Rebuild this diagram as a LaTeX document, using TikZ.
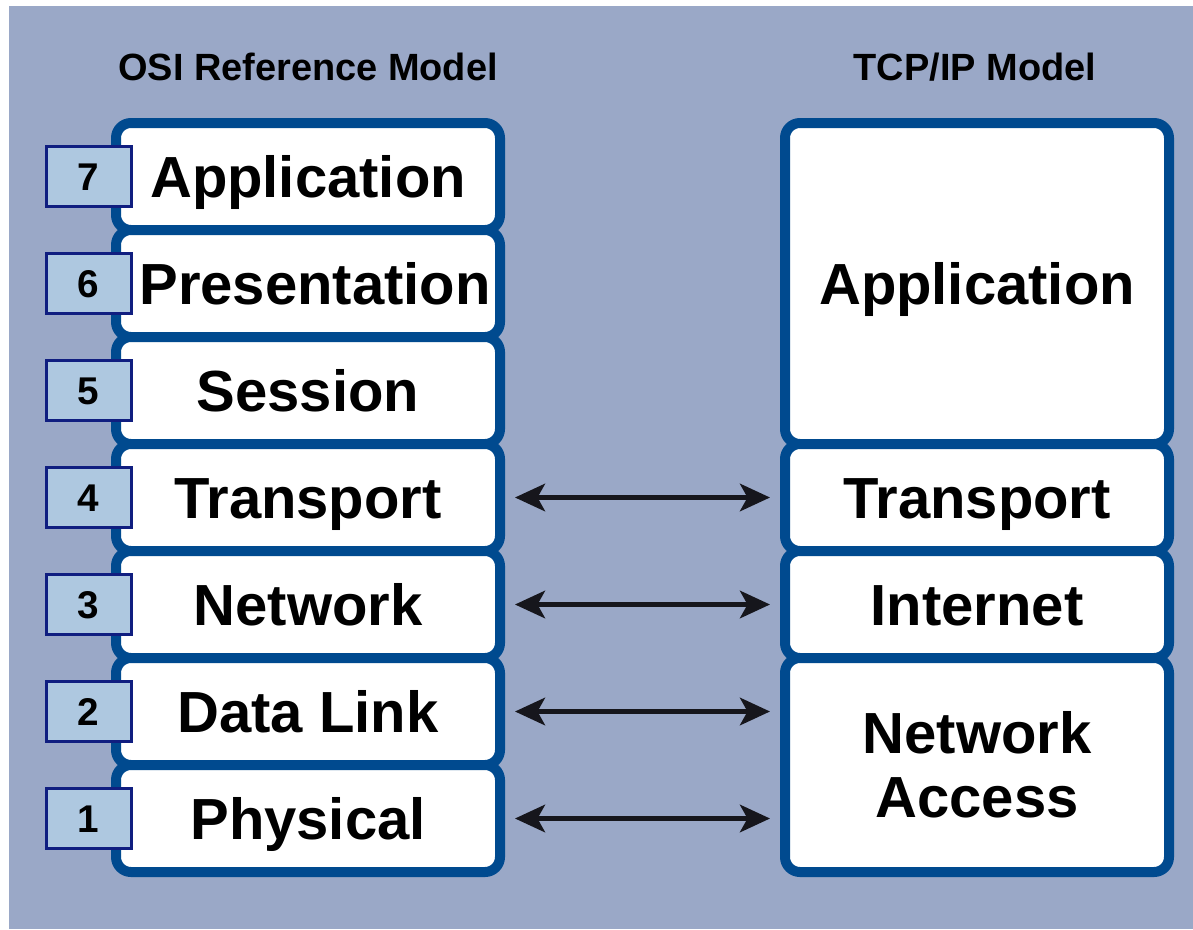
\documentclass[tikz,border=0pt]{standalone}
\usepackage{fontspec}
\setmainfont{Liberation Sans}
\usetikzlibrary{arrows.meta}

\definecolor{slate}{RGB}{154,168,199}
\definecolor{layerblue}{RGB}{0,74,143}
\definecolor{numfill}{RGB}{174,200,224}
\definecolor{numline}{RGB}{16,30,128}
\definecolor{arrowgray}{RGB}{22,22,28}

\tikzset{
  layerbox/.style={draw=layerblue, line width=0.2cm, fill=white, rounded corners=0.3cm,
    minimum width=7.68cm, minimum height=2.14cm, inner sep=0pt, align=center,
    font=\fontsize{33}{36.4}\selectfont\bfseries, text height=23.6pt, text depth=0pt},
  numbox/.style={draw=numline, line width=0.06cm, fill=numfill,
    minimum width=1.7cm, minimum height=1.2cm, inner sep=0pt,
    font=\fontsize{22}{22}\selectfont\bfseries, text height=15.8pt, text depth=0pt},
  modeltitle/.style={anchor=base, font=\fontsize{21.6}{24}\selectfont\bfseries},
  layerarrow/.style={{Stealth[length=0.6cm,width=0.55cm,inset=0.15cm]}-{Stealth[length=0.6cm,width=0.55cm,inset=0.15cm]},
    draw=arrowgray, line width=0.09cm, shorten <=0.2cm, shorten >=0.2cm}
}

\begin{document}
\begin{tikzpicture}

\def \xnum   {1.77}
\def \xosi   {6.16}
\def \xtcp   {19.54}

\def \ytitle {-1.60}
\def \yseven {-3.53}
\def \ysix   {-5.67}
\def \yfive  {-7.81}
\def \yfour  {-9.95}
\def \ythree {-12.09}
\def \ytwo   {-14.23}
\def \yone   {-16.37}

\useasboundingbox (0,0) rectangle (23.86,-18.58);
% background
\fill [slate] (0.18,-0.12) rectangle (23.86,-18.58);

% model titles
\node [modeltitle] (osititle) at (6.16, \ytitle) {OSI Reference Model};
\node [modeltitle] (tcptitle) at (19.50, \ytitle) {TCP/IP Model};

% osi layers
\node [layerbox] (osi7) at (\xosi, \yseven) {Application};
\node [layerbox] (osi6) at (\xosi, \ysix)   {\hspace*{0.28cm}Presentation};
\node [layerbox] (osi5) at (\xosi, \yfive)  {Session};
\node [layerbox] (osi4) at (\xosi, \yfour)  {Transport};
\node [layerbox] (osi3) at (\xosi, \ythree) {Network};
\node [layerbox] (osi2) at (\xosi, \ytwo)   {Data Link};
\node [layerbox] (osi1) at (\xosi, \yone)   {Physical};

% layer numbers
\node [numbox] (num7) at (\xnum, \yseven) {7};
\node [numbox] (num6) at (\xnum, \ysix)   {6};
\node [numbox] (num5) at (\xnum, \yfive)  {5};
\node [numbox] (num4) at (\xnum, \yfour)  {4};
\node [numbox] (num3) at (\xnum, \ythree) {3};
\node [numbox] (num2) at (\xnum, \ytwo)   {2};
\node [numbox] (num1) at (\xnum, \yone)   {1};

% tcp/ip layers
\node [layerbox, minimum height=6.42cm] (tcpapp) at (\xtcp, \ysix) {Application};
\node [layerbox] (tcptrans) at (\xtcp, \yfour)  {Transport};
\node [layerbox] (tcpinet)  at (\xtcp, \ythree) {Internet};
\node [layerbox, minimum height=4.28cm, text height={}, text depth={}] (tcpacc) at (\xtcp, -15.30) {Network\\Access};

% mappings
\draw [layerarrow] (osi4.east) -- (tcptrans.west);
\draw [layerarrow] (osi3.east) -- (tcpinet.west);
\draw [layerarrow] (osi2.east) -- (osi2.east -| tcpacc.west);
\draw [layerarrow] (osi1.east) -- (osi1.east -| tcpacc.west);

\end{tikzpicture}
\end{document}
